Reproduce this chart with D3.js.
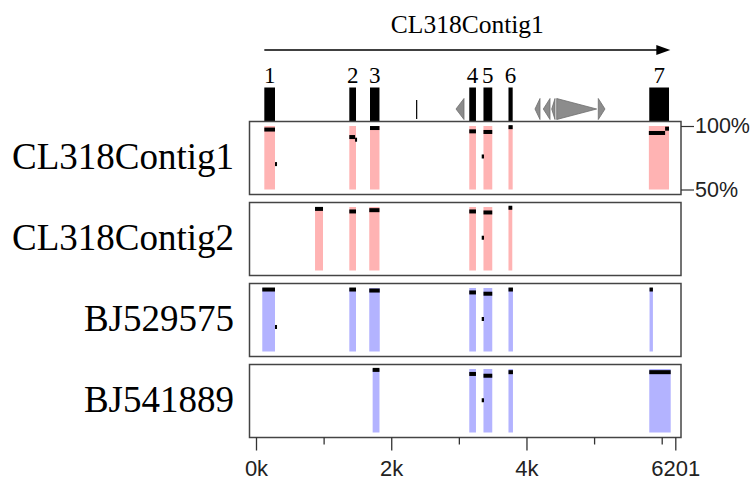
<!DOCTYPE html>
<html>
<head>
<meta charset="utf-8">
<script src="https://cdn.jsdelivr.net/npm/d3@7"></script>
<style>
  html, body { margin: 0; padding: 0; background: #fff; }
  svg { display: block; }
</style>
</head>
<body>
<script>
// ---------------- data ----------------
const contigName = "CL318Contig1";
const contigLength = 6201;

// gene model exons (bp)
const exonLabels = ["1", "2", "3", "4", "5", "6", "7"];
const exonStarts = [123, 1380, 1686, 3154, 3364, 3734, 5816];
const exonEnds   = [281, 1479, 1826, 3253, 3494, 3796, 6108];

// thin marker in gene model
const markerPositions = [2376];

// repeat elements: [start, end, strand]
const repeatStarts  = [2958, 4126, 4249, 4373, 4447, 5062];
const repeatEnds    = [3076, 4200, 4348, 4422, 5038, 5161];
const repeatStrands = ["-", "-", "-", "-", "+", "+"];

// tracks
const trackNames  = ["CL318Contig1", "CL318Contig2", "BJ529575", "BJ541889"];
const trackColors = ["#ffb3b3", "#ffb3b3", "#b3b3ff", "#b3b3ff"];

// aligned blocks per track: [start, end]
const blocksContig1 = [[123, 281], [1380, 1479], [1686, 1826], [3154, 3253], [3364, 3494], [3734, 3796], [5810, 6108]];
const blocksContig2 = [[873, 991], [1380, 1479], [1675, 1826], [3154, 3253], [3364, 3494], [3734, 3790]];
const blocksBJ529575 = [[93, 281], [1380, 1479], [1675, 1830], [3154, 3253], [3364, 3494], [3734, 3800], [5820, 5870]];
const blocksBJ541889 = [[1725, 1826], [3154, 3253], [3364, 3494], [3734, 3800], [5816, 6133]];

// identity segments per track: [start, end, percent]
const identContig1 = [[123, 281, 97.2], [281, 311, 70.0], [1380, 1465, 91.3], [1465, 1480, 89.2], [1686, 1826, 98.4],
                      [3154, 3253, 95.8], [3338, 3372, 76.0], [3364, 3494, 95.3], [3734, 3796, 99.1],
                      [5810, 6050, 94.5], [6050, 6108, 97.9]];
const identContig2 = [[873, 991, 98.5], [1380, 1479, 96.5], [1675, 1826, 97.5], [3154, 3253, 96.5],
                      [3364, 3494, 95.7], [3338, 3372, 75.8], [3734, 3790, 99.4]];
const identBJ529575 = [[93, 281, 98.8], [281, 311, 69.3], [1380, 1479, 98.8], [1675, 1830, 98.0], [3154, 3253, 96.5],
                       [3364, 3494, 95.5], [3338, 3372, 75.6], [3734, 3800, 98.8], [5820, 5870, 98.8]];
const identBJ541889 = [[1725, 1826, 99.3], [3154, 3253, 96.1], [3364, 3494, 94.7], [3338, 3372, 75.4],
                       [3734, 3800, 97.5], [5816, 6133, 97.5]];

const trackBlocks = [blocksContig1, blocksContig2, blocksBJ529575, blocksBJ541889];
const trackIdent  = [identContig1, identContig2, identBJ529575, identBJ541889];

// axis ticks
const majorTicks = [0, 2000, 4000, 6201];
const majorTickLabels = ["0k", "2k", "4k", "6201"];
const minorTicks = [1000, 3000, 5000, 6000];
const pctTicks = [100, 50];
const pctTickLabels = ["100%", "50%"];

// ---------------- layout ----------------
const W = 754, H = 484;
const serif = "'Liberation Serif', 'Times New Roman', serif";
const sans = "'Liberation Sans', Arial, sans-serif";

const svg = d3.select("body").append("svg").attr("width", W).attr("height", H);

const x = d3.scaleLinear().domain([0, contigLength]).range([256, 675.3]);
const frameLeft = 249.5, frameRight = 681;
const panelTop0 = 121.5, panelStep = 81, panelH = 73;

// title
svg.append("text")
  .attr("x", (x(exonStarts[0]) + x(contigLength) - 5) / 2)
  .attr("y", 33)
  .attr("text-anchor", "middle")
  .attr("font-family", serif)
  .attr("font-size", 25.5)
  .attr("fill", "#000")
  .text(contigName);

// direction arrow
const arrowY = 50;
svg.append("line")
  .attr("x1", x(exonStarts[0])).attr("x2", x(contigLength) - 14)
  .attr("y1", arrowY).attr("y2", arrowY)
  .attr("stroke", "#000").attr("stroke-width", 1.5);
svg.append("path")
  .attr("d", d3.line()([[x(contigLength) - 19, arrowY - 5], [x(contigLength) - 5, arrowY], [x(contigLength) - 19, arrowY + 5]]) + "Z")
  .attr("fill", "#000");

// gene model exons
const exonTop = 87.5;
const gExon = svg.append("g");
gExon.selectAll("rect").data(exonStarts).join("rect")
  .attr("x", (d) => x(d))
  .attr("width", (d, i) => x(exonEnds[i]) - x(d))
  .attr("y", exonTop)
  .attr("height", panelTop0 - exonTop)
  .attr("fill", "#000");
gExon.selectAll("text").data(exonLabels).join("text")
  .attr("x", (d, i) => (x(exonStarts[i]) + x(exonEnds[i])) / 2)
  .attr("y", 83)
  .attr("text-anchor", "middle")
  .attr("font-family", serif)
  .attr("font-size", 23)
  .attr("fill", "#000")
  .text((d) => d);

// thin marker
svg.selectAll("line.marker").data(markerPositions).join("line")
  .attr("class", "marker")
  .attr("x1", (d) => x(d)).attr("x2", (d) => x(d))
  .attr("y1", 100).attr("y2", 119)
  .attr("stroke", "#000").attr("stroke-width", 1.2);

// repeat triangles
const repTop = 98.5, repBot = 119.5, repMid = (repTop + repBot) / 2;
svg.selectAll("path.rep").data(repeatStarts).join("path")
  .attr("class", "rep")
  .attr("d", (d, i) => {
    const a = x(d), b = x(repeatEnds[i]);
    if (repeatStrands[i] === "+") return d3.line()([[a, repTop], [b, repMid], [a, repBot]]) + "Z";
    return d3.line()([[b, repTop], [a, repMid], [b, repBot]]) + "Z";
  })
  .attr("fill", "#8c8c8c")
  .attr("stroke", "#6e6e6e")
  .attr("stroke-width", 0.8);

// ---------------- tracks ----------------
trackNames.forEach((name, ti) => {
  const top = panelTop0 + ti * panelStep;
  const y = d3.scaleLinear().domain([50, 100]).range([top + 68, top + 4.5]);
  const g = svg.append("g");

  // frame
  g.append("rect")
    .attr("x", frameLeft).attr("y", top)
    .attr("width", frameRight - frameLeft).attr("height", panelH)
    .attr("fill", "#fff")
    .attr("stroke", "#444").attr("stroke-width", 1.5);

  // blocks
  g.selectAll("rect.block").data(trackBlocks[ti]).join("rect")
    .attr("class", "block")
    .attr("x", (d) => x(d[0]))
    .attr("width", (d) => x(d[1]) - x(d[0]))
    .attr("y", y(100))
    .attr("height", y(50) - y(100))
    .attr("fill", trackColors[ti]);

  // identity segments
  g.selectAll("rect.ident").data(trackIdent[ti]).join("rect")
    .attr("class", "ident")
    .attr("x", (d) => x(d[0]))
    .attr("width", (d) => Math.max(2, x(d[1]) - x(d[0])))
    .attr("y", (d) => y(d[2]) - 2)
    .attr("height", 4)
    .attr("fill", "#000");

  // track label
  g.append("text")
    .attr("x", 234)
    .attr("y", top + panelH / 2 + 11)
    .attr("text-anchor", "end")
    .attr("font-family", serif)
    .attr("font-size", 37)
    .attr("fill", "#000")
    .text(name);

  // percent axis on the first panel
  if (ti === 0) {
    const ax = d3.axisRight(y).tickValues(pctTicks)
      .tickFormat((d, i) => pctTickLabels[i])
      .tickSize(13).tickPadding(1);
    const ga = g.append("g").attr("transform", `translate(${frameRight},0)`).call(ax);
    ga.select(".domain").remove();
    ga.selectAll("line").attr("stroke", "#333").attr("stroke-width", 1.2);
    ga.selectAll("text").attr("font-family", sans).attr("font-size", 21.5).attr("fill", "#222");
  }
});

// ---------------- bottom axis ----------------
const axisY = panelTop0 + 3 * panelStep + panelH;
const gMinor = svg.append("g").attr("transform", `translate(0,${axisY})`)
  .call(d3.axisBottom(x).tickValues(minorTicks).tickSize(7).tickFormat(""));
gMinor.select(".domain").remove();
gMinor.selectAll("line").attr("stroke", "#333").attr("stroke-width", 1.3);

const gMajor = svg.append("g").attr("transform", `translate(0,${axisY})`)
  .call(d3.axisBottom(x).tickValues(majorTicks).tickSize(13).tickPadding(10)
    .tickFormat((d, i) => majorTickLabels[i]));
gMajor.select(".domain").remove();
gMajor.selectAll("line").attr("stroke", "#333").attr("stroke-width", 1.3);
gMajor.selectAll("text").attr("font-family", sans).attr("font-size", 22).attr("fill", "#222");
</script>
</body>
</html>
